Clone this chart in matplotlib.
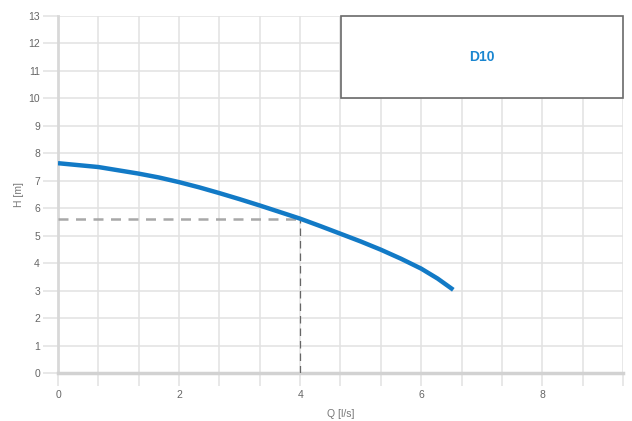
import numpy as np
import matplotlib
matplotlib.use("Agg")
import matplotlib.pyplot as plt
from matplotlib.patches import Rectangle

# pump curve D10
flow = [0, 0.333, 0.667, 1.0, 1.333, 1.667, 2.0, 2.333, 2.667, 3.0, 3.333,
        3.667, 4.0, 4.333, 4.667, 5.0, 5.333, 5.667, 6.0, 6.27, 6.53]
head = [7.64, 7.57, 7.50, 7.38, 7.26, 7.12, 6.95, 6.76, 6.55, 6.33, 6.10,
        5.86, 5.62, 5.35, 5.07, 4.79, 4.49, 4.16, 3.80, 3.44, 3.03]

duty_q = 4.0
duty_h = 5.6
pump_name = "D10"

x_max = 28 / 3
y_max = 13
x_labels = [0, 2, 4, 6, 8]

plt.rcParams["font.family"] = ["Liberation Sans", "DejaVu Sans"]

fig = plt.figure(figsize=(6.32, 4.21), dpi=100)
ax = fig.add_axes([58 / 632, (421 - 373) / 421, (623 - 58) / 632, (373 - 16) / 421])

grid_c = "#e2e2e2"
xt = np.arange(0, x_max + 0.01, 2 / 3)
ax.set_xticks(xt)
ax.set_xticklabels([str(int(round(v))) if any(abs(v - l) < 0.01 for l in x_labels) else "" for v in xt])
ax.set_yticks(range(0, y_max + 1))
ax.set_xlim(0, x_max)
ax.set_ylim(0, y_max)
ax.grid(True, color=grid_c, linewidth=1.1)
ax.tick_params(axis="both", colors=grid_c, labelcolor="#666666", labelsize=7.5,
               width=1.1)
ax.tick_params(axis="x", length=9, pad=3)
ax.tick_params(axis="y", length=11, pad=2)

for s in ["top", "right"]:
    ax.spines[s].set_visible(False)
ax.spines["left"].set_color("#d8d8d8")
ax.spines["left"].set_linewidth(2)
ax.spines["bottom"].set_color("#d2d2d2")
ax.spines["bottom"].set_linewidth(2.5)

# duty point guides
ax.plot([0, duty_q], [duty_h, duty_h], color="#a8a8a8", linewidth=1.8,
        dashes=(4, 3), zorder=3)
ax.plot([duty_q, duty_q], [0, duty_h], color="#666666", linewidth=0.9,
        dashes=(6, 4), zorder=3)

ax.plot(flow, head, color="#127ac6", linewidth=3.2, solid_capstyle="butt",
        solid_joinstyle="round", zorder=4)

# name box
box = Rectangle((14 / 3, 10), x_max - 14 / 3, 3, facecolor="white",
                edgecolor="#6a6a6a", linewidth=1.2, zorder=5, clip_on=False)
ax.add_patch(box)
ax.text((14 / 3 + x_max) / 2, 11.5, pump_name, color="#1a86d0", fontsize=10,
        fontweight="bold", ha="center", va="center", zorder=6)

ax.set_xlabel("Q [l/s]", fontsize=7.5, color="#777777", labelpad=7)
ax.set_ylabel("H [m]", fontsize=7.5, color="#777777", labelpad=3)

fig.savefig("out.png", dpi=100)
